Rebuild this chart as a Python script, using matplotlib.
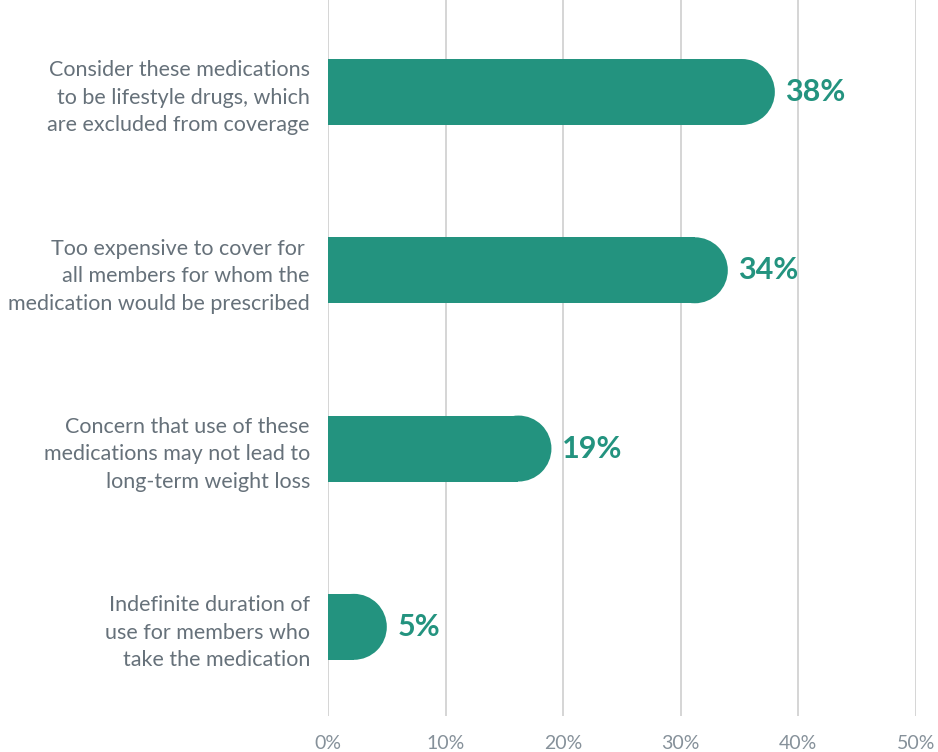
import matplotlib.pyplot as plt
from matplotlib.patches import Ellipse
import numpy as np

reasons = [
    'Consider these medications\nto be lifestyle drugs, which\nare excluded from coverage',
    'Too expensive to cover for \nall members for whom the\nmedication would be prescribed',
    'Concern that use of these\nmedications may not lead to\nlong-term weight loss',
    'Indefinite duration of\nuse for members who\ntake the medication',
]
pct = [38, 34, 19, 5]
xticks = [0, 10, 20, 30, 40, 50]

teal = '#23937f'
gray_txt = '#66717a'
tick_gray = '#86919a'

plt.rcParams['font.family'] = ['Lato', 'DejaVu Sans']

fig = plt.figure(figsize=(9.38, 7.52), dpi=100)
ax = fig.add_axes([0.3497, 0.0479, 0.6268, 0.9521])

y = np.arange(len(pct))
h = 0.37
ax.set_xlim(0, 50)
ax.set_ylim(3.5, -0.516)
# radius of the round cap, in % units (half the bar height in pixels)
box = ax.get_window_extent()
px_per_x = box.width / 50.0
px_per_y = box.height / (3.5 + 0.516)
rx = (h * px_per_y / 2) / px_per_x

for yi, v in zip(y, pct):
    ax.barh(yi, v - rx, height=h, color=teal, zorder=3)
    ax.add_patch(Ellipse((v - rx, yi), 2 * rx, h, color=teal, zorder=3, lw=0))
    ax.text(v + 0.9, yi, f'{v}%', va='center', ha='left', fontsize=22,
            fontweight='bold', color=teal)

ax.set_xticks(xticks)
ax.set_xticklabels([f'{t}%' for t in xticks], fontsize=14, color=tick_gray)
ax.tick_params(axis='x', length=0, pad=14)
ax.set_yticks(y)
ax.set_yticklabels(reasons, fontsize=15.5, color=gray_txt, linespacing=1.47)
ax.tick_params(axis='y', length=0, pad=13)
ax.grid(axis='x', color='#d2d2d2', lw=1.3, zorder=0)
for s in ax.spines.values():
    s.set_visible(False)

fig.savefig('out.png', dpi=100)
